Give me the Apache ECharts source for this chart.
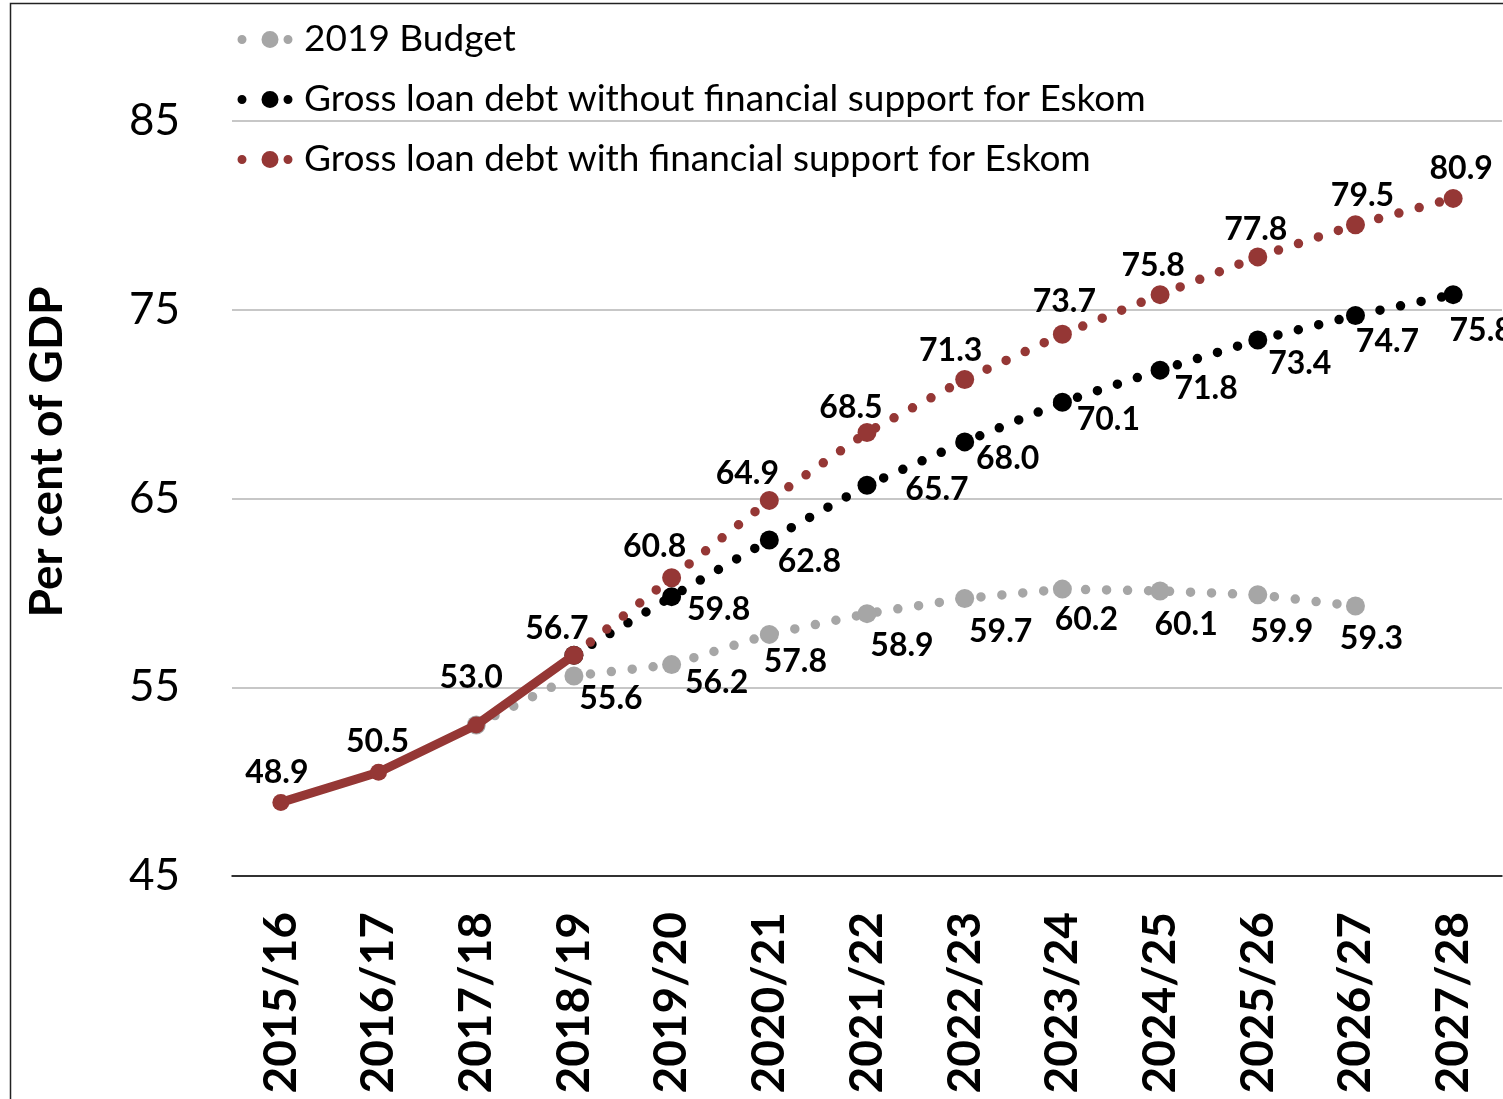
<!DOCTYPE html>
<html>
<head>
<meta charset="utf-8">
<script src="https://cdn.jsdelivr.net/npm/echarts@6/dist/echarts.min.js"></script>
<style>
html,body{margin:0;padding:0;background:#fff;}
#chart{width:1503px;height:1099px;}
</style>
</head>
<body>
<div id="chart"></div>
<script>
// ---- data ----
const categories = ['2015/16','2016/17','2017/18','2018/19','2019/20','2020/21','2021/22','2022/23','2023/24','2024/25','2025/26','2026/27','2027/28'];
const historical = [48.9, 50.5, 53.0, 56.7, null, null, null, null, null, null, null, null, null];
const budget2019 = [null, null, 53.0, 55.6, 56.2, 57.8, 58.9, 59.7, 60.2, 60.1, 59.9, 59.3, null];
const withoutEskom = [null, null, null, 56.7, 59.8, 62.8, 65.7, 68.0, 70.1, 71.8, 73.4, 74.7, 75.8];
const withEskom = [null, null, null, 56.7, 60.8, 64.9, 68.5, 71.3, 73.7, 75.8, 77.8, 79.5, 80.9];
const yTicks = [45, 55, 65, 75, 85];

// ---- layout: label nudges (px, relative to point) ----
const histShift = [[-4,-30],[-1,-31],[-5,-47],[-17,-26]];
const budgetShift = [null,null,null,[37,23],[45,18],[26,27],[35,32],[36,33],[24,31],[26,34],[24,37],[16,33],null];
const withoutShift = [null,null,null,null,[47,13],[40,22],[70,4],[43,17],[46,17],[46,19],[42,24],[32,26],[28,36]];
const withShift = [null,null,null,null,[-17,-31],[-22,-27],[-16,-25],[-14,-29],[2,-33],[-7,-29],[-2,-27],[7,-29],[8,-30]];

const RED = '#953735', GRAY = '#a6a6a6', BLACK = '#000000';
const FONT = 'Lato';
const labelStyle = {fontFamily: FONT, fontWeight: 'bold', fontSize: 32, color: '#000'};
// legend icon: small dot, big dot, small dot (58 x 18 box)
const LEGEND_ICON = 'path://M1.5,9a4.5,4.5 0 1,0 9,0a4.5,4.5 0 1,0 -9,0Z' +
  'M25.5,9a8.5,8.5 0 1,0 17,0a8.5,8.5 0 1,0 -17,0Z' +
  'M47.5,9a4.5,4.5 0 1,0 9,0a4.5,4.5 0 1,0 -9,0Z' +
  'M0,0L0,0M58,18L58,18';

function items(values, shifts) {
  return values.map((v, i) => {
    if (v == null) return null;
    const s = shifts[i];
    if (!s) return {value: v, label: {show: false}};
    return {value: v, label: {show: true, offset: s}};
  });
}

function dotted(name, values, shifts, color, z) {
  return {
    name: name, type: 'line', z: z,
    data: items(values, shifts),
    symbol: 'circle', symbolSize: 19, showSymbol: true,
    itemStyle: {color: color},
    lineStyle: {color: color, width: 9.5, type: [0, 21], cap: 'round'},
    label: Object.assign({position: 'inside', formatter: p => p.value.toFixed(1)}, labelStyle),
    emphasis: {disabled: true}, animation: false
  };
}

const chart = echarts.init(document.getElementById('chart'), null, {renderer: 'canvas'});
chart.setOption({
  animation: false,
  grid: {left: 232, right: 1, top: 121, bottom: 223, containLabel: false},
  graphic: [
    {type: 'rect', shape: {x: 10.5, y: 3.5, width: 1600, height: 1200}, style: {fill: 'none', stroke: '#222', lineWidth: 1.5}, silent: true},
    {type: 'text', x: 47, y: 452, rotation: Math.PI / 2,
     style: {text: 'Per cent of GDP', fontFamily: FONT, fontWeight: 'bold', fontSize: 46, fill: '#000', align: 'center', verticalAlign: 'middle'}}
  ],
  legend: {
    data: ['2019 Budget', 'Gross loan debt without financial support for Eskom', 'Gross loan debt with financial support for Eskom'],
    orient: 'vertical', left: 231, top: 16, itemGap: 23, itemWidth: 58, itemHeight: 18,
    icon: LEGEND_ICON,
    textStyle: {fontFamily: FONT, fontSize: 37, color: '#000', padding: [0,0,0,5]},
    selectedMode: false
  },
  xAxis: {
    type: 'category', data: categories, boundaryGap: true,
    axisLine: {show: true, lineStyle: {color: '#000', width: 1.5}},
    axisTick: {show: false},
    axisLabel: {rotate: 90, margin: 36, fontFamily: FONT, fontWeight: 'bold', fontSize: 46, color: '#000', interval: 0}
  },
  yAxis: {
    type: 'value', min: yTicks[0], max: yTicks[yTicks.length - 1], interval: 10,
    axisLine: {show: false}, axisTick: {show: false},
    axisLabel: {margin: 52, fontFamily: FONT, fontSize: 44, color: '#000'},
    splitLine: {show: true, lineStyle: {color: '#b4b4b4', width: 1.5}}
  },
  series: [
    dotted('2019 Budget', budget2019, budgetShift, GRAY, 2),
    dotted('Gross loan debt without financial support for Eskom', withoutEskom, withoutShift, BLACK, 3),
    dotted('Gross loan debt with financial support for Eskom', withEskom, withShift, RED, 4),
    {
      name: 'Historical', type: 'line', z: 5,
      data: items(historical, histShift),
      symbol: 'circle', symbolSize: 17,
      itemStyle: {color: RED},
      lineStyle: {color: RED, width: 9},
      label: Object.assign({position: 'inside', formatter: p => p.value.toFixed(1)}, labelStyle),
      emphasis: {disabled: true}
    }
  ]
});
</script>
</body>
</html>
